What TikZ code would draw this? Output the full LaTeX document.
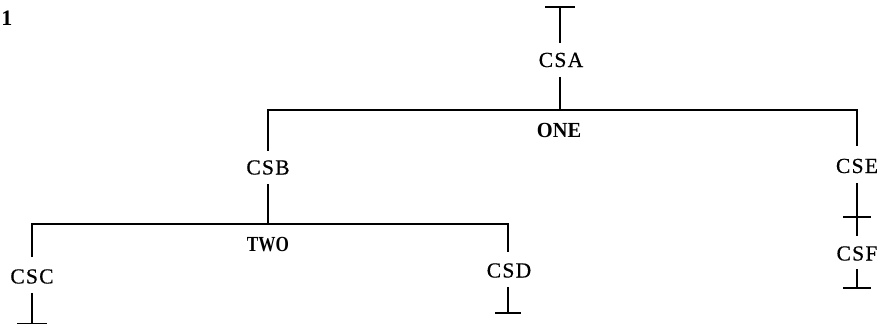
\documentclass[tikz,border=0pt]{standalone}
\usepackage{graphicx}
\usepackage{fontspec}
\setmainfont{Liberation Serif}
\newfontfamily\csfont[LetterSpace=6,FakeBold=0.6]{Liberation Serif}
\begin{document}
\begin{tikzpicture}[x=1pt,y=-1pt,line width=1.8pt,
  lbl/.style={font=\csfont\fontsize{21.5}{21.5}\selectfont,inner sep=0pt,text height=14pt,text depth=0pt},
  hd/.style={font=\bfseries\fontsize{21.5}{21.5}\selectfont,inner sep=0pt,text height=14pt,text depth=0pt}]
\useasboundingbox (0,0) rectangle (883,325);
% labels
\node[font=\bfseries\fontsize{22}{22}\selectfont,inner sep=0pt] (num) at (7,18) {1};
\node[lbl] (CSA) at (561,60) {CSA};
\node[lbl] (CSB) at (268,167.5) {CSB};
\node[lbl] (CSC) at (32,276.5) {CSC};
\node[lbl] (CSD) at (509,270.5) {CSD};
\node[lbl] (CSE) at (857,166) {CSE};
\node[lbl] (CSF) at (857,253.5) {CSF};
\node[hd] (ONE) at (559,130) {\scalebox{0.95}[1]{ONE}};
\node[hd] (TWO) at (268,244) {\scalebox{0.8}[1]{TWO}};
% coordinates
\coordinate (tA) at (560,7);
\coordinate (jA) at (560,110);
\coordinate (jB) at (268,224);
\coordinate (cF) at (857,217);
\coordinate (bC) at (32,323.5);
\coordinate (bD) at (508,313);
\coordinate (bF) at (857,288);
% top of CSA
\draw (tA) +(-15,0) -- +(15,0);
\draw[shorten >=9pt] (tA) -- (tA |- CSA.north);
\draw[shorten <=9pt] (jA |- CSA.south) -- (jA);
% level ONE
\draw[shorten <=8.5pt,shorten >=12pt] (jB |- CSB.north) |- (jA) -| (cF |- CSE.north);
% CSE to CSF
\draw[shorten <=9pt,shorten >=9.5pt] (cF |- CSE.south) -- (cF |- CSF.north);
\draw (cF) +(-14,0) -- +(14,0);
\draw[shorten <=7.5pt] (bF |- CSF.south) -- (bF);
\draw (bF) +(-14,0) -- +(14,0);
% level TWO
\draw[shorten <=8.5pt] (jB |- CSB.south) -- (jB);
\draw[shorten <=11.5pt,shorten >=10.5pt] (bC |- CSC.north) |- (jB) -| (bD |- CSD.north);
\draw[shorten <=8.5pt] (bC |- CSC.south) -- (bC);
\draw (bC) +(-15,0) -- +(15,0);
\draw[shorten <=8.5pt] (bD |- CSD.south) -- (bD);
\draw (bD) +(-13,0) -- +(13,0);
\end{tikzpicture}
\end{document}
